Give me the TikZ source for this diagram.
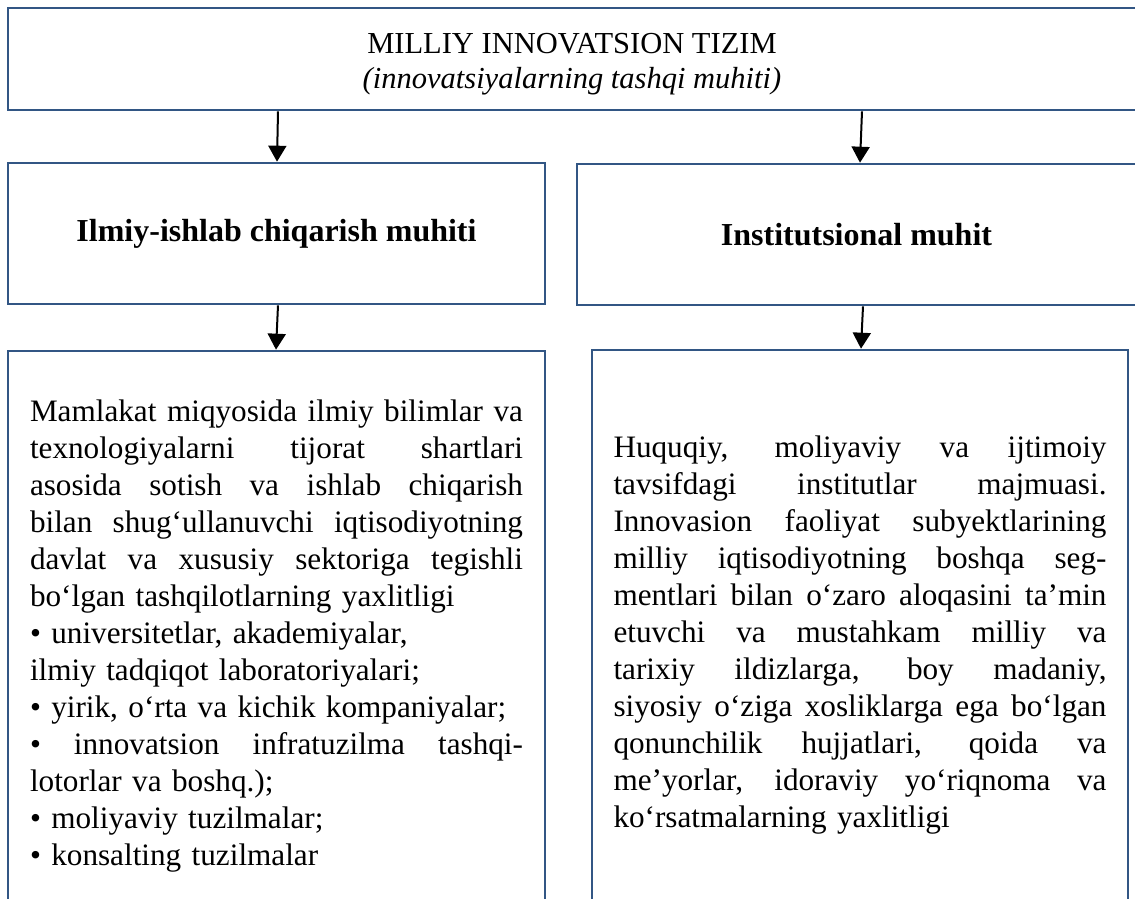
\documentclass[tikz,border=0pt]{standalone}
\usepackage{fontspec}
\setmainfont{Liberation Serif}
\usetikzlibrary{arrows.meta}
\definecolor{frame}{RGB}{50,86,132}
% one fully justified line of the description text
\newcommand\jline[1]{\leavevmode\hbox to 493pt{\spaceskip=\fontdimen2\font plus 1fil minus \fontdimen4\font\relax #1}}

\begin{document}
\begin{tikzpicture}[x=1pt,y=-1pt,
  box/.style={draw=frame, line width=2.6pt, inner sep=0pt, align=center},
  conn/.style={draw=black, line width=2pt, -{Triangle[width=18pt,length=16pt]}},
  head/.style={font=\fontsize{32}{37}\selectfont\bfseries},
  body/.style={text width=493pt, align=left, font=\fontsize{31.2}{37}\selectfont}]
\useasboundingbox (0,0) rectangle (1135,899);
\clip (0,0) rectangle (1135,899);

% top level
\node[box, minimum width=1128pt, minimum height=102pt,
      font=\fontsize{30.5}{35.5}\selectfont] (top) at (572,59)
  {\rule{0pt}{31pt}MILLIY INNOVATSION TIZIM\\\textit{(innovatsiyalarning tashqi muhiti)}};

% second level
\node[box, head, minimum width=537pt, minimum height=141pt] (ml) at (276.5,233.5)
  {Ilmiy-ishlab chiqarish muhiti};
\node[box, head, minimum width=559pt, minimum height=141pt] (mr) at (856.5,234.5)
  {Institutsional muhit};

% descriptions
\node[box, body, minimum width=537pt, minimum height=570pt] (bl) at (276.5,636) {%
\jline{Mamlakat miqyosida ilmiy bilimlar va}\\
\jline{texnologiyalarni tijorat shartlari}\\
\jline{asosida sotish va ishlab chiqarish}\\
\jline{bilan shug‘ullanuvchi iqtisodiyotning}\\
\jline{davlat va xususiy sektoriga tegishli}\\
bo‘lgan tashqilotlarning yaxlitligi\\
• universitetlar, akademiyalar,\\
ilmiy tadqiqot laboratoriyalari;\\
• yirik, o‘rta va kichik kompaniyalar;\\
\jline{• innovatsion infratuzilma tashqi-}\\
lotorlar va boshq.);\\
• moliyaviy tuzilmalar;\\
• konsalting tuzilmalar};

\node[box, body, minimum width=536pt, minimum height=571pt] (br) at (860,635.5) {%
\jline{Huquqiy, moliyaviy va ijtimoiy}\\
\jline{tavsifdagi institutlar majmuasi.}\\
\jline{Innovasion faoliyat subyektlarining}\\
\jline{milliy iqtisodiyotning boshqa seg-}\\
\jline{mentlari bilan o‘zaro aloqasini ta’min}\\
\jline{etuvchi va mustahkam milliy va}\\
\jline{tarixiy ildizlarga, boy madaniy,}\\
\jline{siyosiy o‘ziga xosliklarga ega bo‘lgan}\\
\jline{qonunchilik hujjatlari, qoida va}\\
\jline{me’yorlar, idoraviy yo‘riqnoma va}\\
ko‘rsatmalarning yaxlitligi};

% connectors
\draw[conn] ([xshift=-294pt]top.south) -- ([xshift=0.5pt]ml.north);
\draw[conn] ([xshift=290pt]top.south) -- ([xshift=3.5pt]mr.north);
\draw[conn] ([xshift=1.5pt]ml.south) -- ([xshift=-0.5pt]bl.north);
\draw[conn] ([xshift=6.5pt]mr.south) -- ([xshift=1pt]br.north);
\end{tikzpicture}
\end{document}
